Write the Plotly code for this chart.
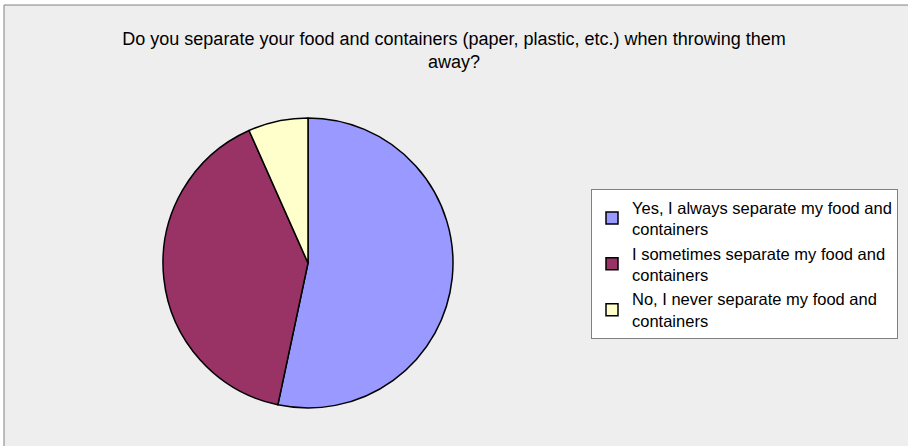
import plotly.graph_objects as go

labels = [
    "Yes, I always separate my food and<br>containers",
    "I sometimes separate my food and<br>containers",
    "No, I never separate my food and<br>containers",
]
values = [16, 12, 2]
colors = ["#9999FF", "#993366", "#FFFFCC"]

W, H = 908, 446
FONT = "Liberation Sans, Arial, sans-serif"

fig = go.Figure()
fig.add_trace(go.Pie(
    labels=labels,
    values=values,
    sort=False,
    direction="clockwise",
    rotation=0,
    marker=dict(colors=colors, line=dict(color="#000000", width=1.5)),
    textinfo="none",
    hoverinfo="label+percent",
    domain=dict(x=[163 / W, 453 / W], y=[(H - 409) / H, (H - 117) / H]),
))

fig.update_layout(
    width=W, height=H,
    margin=dict(l=0, r=0, t=0, b=0),
    paper_bgcolor="#FFFFFF",
    plot_bgcolor="#EEEEEE",
    font=dict(family=FONT, color="#000000"),
    title=dict(
        text="Do you separate your food and containers (paper, plastic, etc.) when throwing them<br>away?",
        x=0.5, xanchor="center", y=1 - 45 / H, yanchor="top",
        font=dict(size=18, family=FONT, color="#000000"),
    ),
    legend=dict(
        x=591 / W, y=(H - 189) / H, xanchor="left", yanchor="top",
        bgcolor="#FFFFFF", bordercolor="#808080", borderwidth=1,
        font=dict(size=16.5, family=FONT, color="#000000"),
        tracegroupgap=0, itemwidth=30,
    ),
    shapes=[
        dict(type="rect", xref="paper", yref="paper",
             x0=4 / W, x1=1.01, y0=-0.01, y1=1 - 5 / H,
             fillcolor="#EEEEEE", line=dict(color="#808080", width=1), layer="below"),
    ],
    showlegend=True,
)

fig.write_html("out.html")
